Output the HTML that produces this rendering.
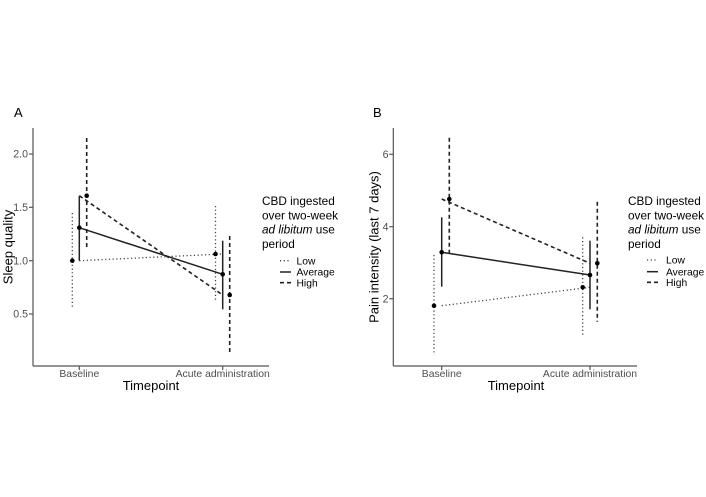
<!DOCTYPE html>
<html><head><meta charset="utf-8"><style>
html,body{margin:0;padding:0;background:#fff;}
svg{display:block;font-family:"Liberation Sans",Arial,sans-serif;}
</style></head><body>
<svg width="706" height="497" viewBox="0 0 706 497" xmlns="http://www.w3.org/2000/svg">
<rect width="706" height="497" fill="#fff"/>
<!-- Panel A -->
<text x="14" y="117" font-size="13" fill="#000">A</text>
<g stroke="#555" stroke-width="1.2" fill="none">
<line x1="33" y1="128" x2="33" y2="366"/>
<line x1="33" y1="366" x2="269" y2="366"/>
<line x1="29" y1="154" x2="33" y2="154"/>
<line x1="29" y1="207.3" x2="33" y2="207.3"/>
<line x1="29" y1="260.7" x2="33" y2="260.7"/>
<line x1="29" y1="314" x2="33" y2="314"/>
<line x1="79.3" y1="366" x2="79.3" y2="370"/>
<line x1="222.7" y1="366" x2="222.7" y2="370"/>
</g>
<g font-size="10.6" fill="#4d4d4d" text-anchor="end">
<text x="28" y="157.7">2.0</text>
<text x="28" y="211">1.5</text>
<text x="28" y="264.4">1.0</text>
<text x="28" y="317.7">0.5</text>
</g>
<g font-size="10.4" fill="#4d4d4d" text-anchor="middle">
<text x="79.3" y="377">Baseline</text>
<text x="222.7" y="377">Acute administration</text>
</g>
<text x="151" y="390" font-size="13" text-anchor="middle" fill="#000">Timepoint</text>
<text transform="translate(12.3,247) rotate(-90)" font-size="13" text-anchor="middle" fill="#000">Sleep quality</text>
<!-- Low dotted -->
<g stroke="#444" stroke-width="1.3" fill="none" stroke-dasharray="1.2,2.5">
<line x1="72.3" y1="213" x2="72.3" y2="307"/>
<line x1="215.5" y1="206" x2="215.5" y2="300"/>
<line x1="79.3" y1="260.7" x2="222.7" y2="254"/>
</g>
<!-- Average solid -->
<g stroke="#222" stroke-width="1.5" fill="none">
<line x1="79.3" y1="196" x2="79.3" y2="260.7"/>
<line x1="222.7" y1="240.7" x2="222.7" y2="309.3"/>
<line x1="79.3" y1="227.7" x2="222.7" y2="274.3"/>
</g>
<!-- High dashed -->
<g stroke="#222" stroke-width="1.6" fill="none" stroke-dasharray="4,3">
<line x1="86.7" y1="138" x2="86.7" y2="250"/>
<line x1="229.7" y1="236" x2="229.7" y2="355"/>
<line x1="79.3" y1="195.7" x2="222.7" y2="295"/>
</g>
<g fill="#000">
<circle cx="72.3" cy="260.7" r="2.3"/>
<circle cx="215.5" cy="254" r="2.3"/>
<circle cx="79.3" cy="227.7" r="2.3"/>
<circle cx="222.7" cy="274.3" r="2.3"/>
<circle cx="86.7" cy="195.7" r="2.3"/>
<circle cx="229.7" cy="295" r="2.3"/>
</g>
<!-- Legend A -->
<g font-size="11.8" fill="#000">
<text x="262" y="205">CBD ingested</text>
<text x="262" y="219.7">over two-week</text>
<text x="262" y="233.5"><tspan font-style="italic">ad libitum</tspan> use</text>
<text x="262" y="248">period</text>
</g>
<g font-size="10.3" fill="#000">
<text x="296.5" y="264.3">Low</text>
<text x="296.5" y="275.6">Average</text>
<text x="296.5" y="286.3">High</text>
</g>
<line x1="280" y1="260.7" x2="291" y2="260.7" stroke="#444" stroke-width="1.3" stroke-dasharray="1.2,2.5"/>
<line x1="280" y1="272" x2="291" y2="272" stroke="#222" stroke-width="1.5"/>
<line x1="280" y1="282.7" x2="291" y2="282.7" stroke="#222" stroke-width="1.6" stroke-dasharray="4,3"/>

<!-- Panel B -->
<text x="373" y="117" font-size="13" fill="#000">B</text>
<g stroke="#555" stroke-width="1.2" fill="none">
<line x1="393.3" y1="128" x2="393.3" y2="366"/>
<line x1="393.3" y1="366" x2="637" y2="366"/>
<line x1="389.3" y1="154.3" x2="393.3" y2="154.3"/>
<line x1="389.3" y1="226.7" x2="393.3" y2="226.7"/>
<line x1="389.3" y1="298.7" x2="393.3" y2="298.7"/>
<line x1="441.7" y1="366" x2="441.7" y2="370"/>
<line x1="590" y1="366" x2="590" y2="370"/>
</g>
<g font-size="10.6" fill="#4d4d4d" text-anchor="end">
<text x="388.5" y="158">6</text>
<text x="388.5" y="230.4">4</text>
<text x="388.5" y="302.4">2</text>
</g>
<g font-size="10.4" fill="#4d4d4d" text-anchor="middle">
<text x="441.7" y="377">Baseline</text>
<text x="590" y="377">Acute administration</text>
</g>
<text x="516" y="390" font-size="13" text-anchor="middle" fill="#000">Timepoint</text>
<text transform="translate(378.5,247) rotate(-90)" font-size="13" text-anchor="middle" fill="#000">Pain intensity (last 7 days)</text>
<g stroke="#444" stroke-width="1.3" fill="none" stroke-dasharray="1.2,2.5">
<line x1="434" y1="255" x2="434" y2="355"/>
<line x1="582.7" y1="237.3" x2="582.7" y2="335"/>
<line x1="441.7" y1="305.7" x2="590" y2="287.3"/>
</g>
<g stroke="#222" stroke-width="1.5" fill="none">
<line x1="441.7" y1="217.3" x2="441.7" y2="286.7"/>
<line x1="590" y1="240.7" x2="590" y2="309.3"/>
<line x1="441.7" y1="252.3" x2="590" y2="275"/>
</g>
<g stroke="#222" stroke-width="1.6" fill="none" stroke-dasharray="4,3">
<line x1="449.3" y1="137.7" x2="449.3" y2="254"/>
<line x1="597.3" y1="201.7" x2="597.3" y2="321.7"/>
<line x1="441.7" y1="199" x2="590" y2="263.3"/>
</g>
<g fill="#000">
<circle cx="434" cy="305.7" r="2.3"/>
<circle cx="582.7" cy="287.3" r="2.3"/>
<circle cx="441.7" cy="252.3" r="2.3"/>
<circle cx="590" cy="275" r="2.3"/>
<circle cx="449.3" cy="199" r="2.3"/>
<circle cx="597.3" cy="263.3" r="2.3"/>
</g>
<g font-size="11.8" fill="#000">
<text x="628" y="205">CBD ingested</text>
<text x="628" y="219.7">over two-week</text>
<text x="628" y="233.5"><tspan font-style="italic">ad libitum</tspan> use</text>
<text x="628" y="248">period</text>
</g>
<g font-size="10.3" fill="#000">
<text x="666" y="263.6">Low</text>
<text x="666" y="275.3">Average</text>
<text x="666" y="285.9">High</text>
</g>
<line x1="647" y1="260" x2="658" y2="260" stroke="#444" stroke-width="1.3" stroke-dasharray="1.2,2.5"/>
<line x1="647" y1="271.7" x2="658" y2="271.7" stroke="#222" stroke-width="1.5"/>
<line x1="647" y1="282.3" x2="658" y2="282.3" stroke="#222" stroke-width="1.6" stroke-dasharray="4,3"/>
</svg>
</body></html>
